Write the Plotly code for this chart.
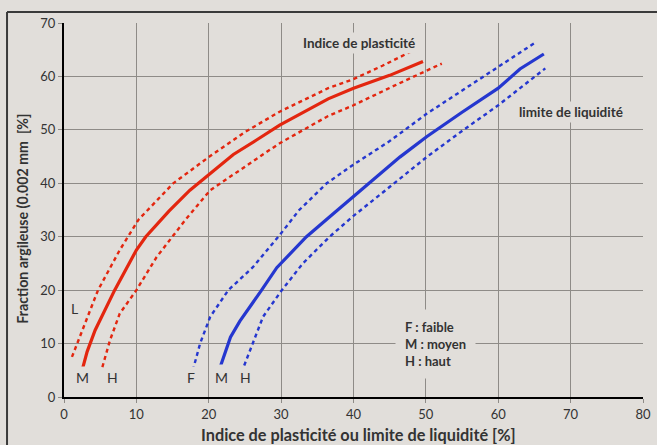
import plotly.graph_objects as go

# Plasticity index (IP) curves: M = medium, L = low bound, H = high bound
ip_m_x = [2.6, 3.2, 4.3, 7.0, 10.0, 11.3, 14.5, 17.4, 20.0, 23.4, 26.6, 29.8, 36.5, 40.0, 45.0, 49.6]
ip_m_y = [5.5, 8.5, 12.5, 20.0, 27.5, 30.0, 34.8, 38.7, 41.6, 45.4, 48.1, 50.9, 55.8, 57.8, 60.2, 62.8]

ip_l_x = [1.1, 2.7, 4.7, 7.7, 10.3, 15.1, 20.2, 25.0, 29.8, 36.5, 40.0, 44.0, 48.3]
ip_l_y = [7.5, 13.1, 20.0, 27.5, 33.2, 40.0, 45.1, 49.6, 53.4, 57.8, 59.5, 62.0, 64.9]

ip_h_x = [5.3, 6.35, 7.7, 10.0, 12.8, 16.8, 20.2, 24.3, 29.8, 36.5, 40.0, 46.0, 52.2]
ip_h_y = [5.6, 10.6, 15.6, 20.0, 26.2, 33.2, 38.7, 42.5, 47.5, 52.6, 54.6, 58.5, 62.4]

# Liquid limit (LL) curves: F = low, M = medium, H = high
ll_m_x = [21.5, 23.0, 24.3, 26.4, 27.3, 29.4, 33.5, 37.2, 40.0, 46.4, 50.1, 55.0, 60.0, 63.0, 66.3]
ll_m_y = [5.3, 11.2, 14.2, 18.2, 20.0, 24.2, 30.0, 34.3, 37.5, 44.9, 48.7, 53.3, 57.8, 61.4, 64.2]

ll_f_x = [17.8, 18.8, 20.2, 22.7, 26.1, 29.8, 32.5, 36.3, 40.0, 45.0, 50.1, 55.0, 60.0, 65.3]
ll_f_y = [5.0, 10.0, 15.0, 20.0, 24.3, 30.3, 35.0, 40.0, 43.5, 47.9, 53.0, 57.4, 61.8, 66.5]

ll_h_x = [24.9, 26.1, 27.5, 30.1, 33.0, 36.7, 40.0, 45.9, 50.1, 55.0, 60.0, 66.5]
ll_h_y = [5.9, 10.0, 15.0, 20.0, 25.0, 30.0, 33.9, 40.3, 44.9, 49.8, 54.6, 61.5]

x_ticks = [0, 10, 20, 30, 40, 50, 60, 70, 80]
y_ticks = [0, 10, 20, 30, 40, 50, 60, 70]

x_title = "Indice de plasticité ou limite de liquidité [%]"
y_title = "Fraction argileuse (0.002 mm  [%]"

BG = "#e1deda"
RED = "#e3260f"
BLUE = "#2537cf"
TXT = "#333333"
FONT = "Lato"

fig = go.Figure()

def curve(xs, ys, color, dotted):
    fig.add_trace(go.Scatter(
        x=xs, y=ys, mode="lines", showlegend=False, hoverinfo="skip",
        line=dict(color=color, width=2.4 if dotted else 3.2,
                  dash="4px,3.5px" if dotted else "solid"),
    ))

curve(ip_l_x, ip_l_y, RED, True)
curve(ip_h_x, ip_h_y, RED, True)
curve(ip_m_x, ip_m_y, RED, False)
curve(ll_f_x, ll_f_y, BLUE, True)
curve(ll_h_x, ll_h_y, BLUE, True)
curve(ll_m_x, ll_m_y, BLUE, False)

def label(text, x, y, size=13, bold=True, xanchor="center", pad=2, align="center"):
    fig.add_annotation(
        x=x, y=y, text=f"<b>{text}</b>" if bold else text, showarrow=False,
        xanchor=xanchor, yanchor="middle", align=align,
        font=dict(family=FONT, size=size, color=TXT),
        bgcolor=BG, borderpad=pad,
    )

label("Indice de plasticité", 40.7, 66.2, size=13.5)
label("limite de liquidité", 70.0, 53.3, size=13.5)
label("F : faible<br>M : moyen<br>H : haut", 45.7, 10.0, size=13, xanchor="left",
      pad=9, align="left")

# Curve end labels
label("L", 1.5, 16.6, size=14, bold=False)
label("M", 2.6, 3.6, size=14, bold=False)
label("H", 6.7, 3.6, size=14, bold=False)
label("F", 17.5, 3.6, size=14, bold=False)
label("M", 21.7, 3.6, size=14, bold=False, pad=4)
label("H", 25.1, 3.6, size=14, bold=False)

# Axis titles, placed relative to the plot area
fig.add_annotation(
    xref="paper", yref="paper", x=0.5086, y=-0.1283, showarrow=False,
    text=f"<b>{x_title}</b>", xanchor="center", yanchor="bottom", borderpad=0,
    font=dict(family=FONT, size=16.3, color=TXT),
)
fig.add_annotation(
    xref="paper", yref="paper", x=-0.0713, y=0.476, showarrow=False,
    text=f"<b>{y_title}</b>", textangle=-90, xanchor="center", yanchor="middle",
    font=dict(family=FONT, size=14.2, color=TXT),
)

# Outer frame (left and top edges)
fx, fy = -0.0984, 1.0294
fig.add_shape(type="line", xref="paper", yref="paper", x0=fx, x1=fx, y0=-0.3, y1=fy,
              line=dict(color="#3a3a3a", width=2))
fig.add_shape(type="line", xref="paper", yref="paper", x0=fx, x1=1.2, y0=fy, y1=fy,
              line=dict(color="#3a3a3a", width=2))

axis_common = dict(
    showgrid=True, gridcolor="#8e8b87", gridwidth=1.2,
    zeroline=False, showline=True, linecolor="#000000", linewidth=2,
    ticks="outside", ticklen=4, tickcolor="#8e8b87", tickwidth=1.2,
    tickfont=dict(family=FONT, size=13, color=TXT),
    automargin=False,
)

fig.update_xaxes(range=[0, 80], tickvals=x_ticks, **axis_common)
fig.update_yaxes(range=[0, 70], tickvals=y_ticks, **axis_common)

fig.update_layout(
    width=657, height=445,
    margin=dict(l=64, r=14, t=23, b=48),
    paper_bgcolor=BG, plot_bgcolor=BG,
    font=dict(family=FONT, color=TXT),
)

fig.write_html("out.html")
